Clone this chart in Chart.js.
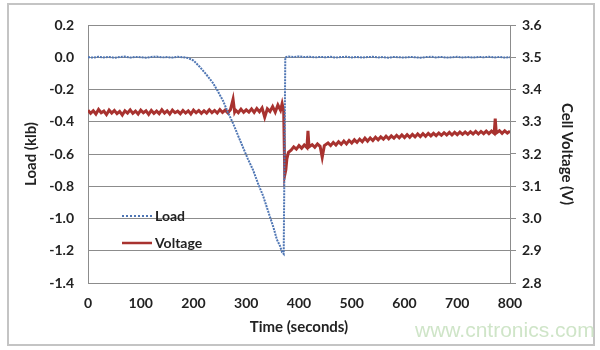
<!DOCTYPE html>
<html>
<head>
<meta charset="utf-8">
<script src="https://cdn.jsdelivr.net/npm/chart.js@4.4.0/dist/chart.umd.min.js"></script>
<style>
  body{margin:0;background:#fff;}
  #wrap{position:relative;width:600px;height:350px;}
  #frame{position:absolute;left:7px;top:3px;width:584px;height:339px;border:2px solid #c4c4c4;}
  #mark{position:absolute;left:415px;top:318px;font:21px "Liberation Sans",Arial,sans-serif;color:#cfe5c8;}
  canvas{position:absolute;left:0;top:0;}
</style>
</head>
<body>
<div id="wrap">
  <div id="frame"></div>
  <canvas id="myChart" width="600" height="350"></canvas>
  <div id="mark">www.cntronics.com</div>
</div>
<script>
// Load (klb) vs time
var loadTime = [0,10,20,30,40,50,60,70,80,90,100,110,120,130,140,150,160,170,180,190,
  200,212,225,237,246,256,265,275,285,294,303,313,322,332,339,345,352,358,364,368,371,
  374,380,390,400,410,420,430,440,450,460,470,480,490,500,510,520,530,540,550,560,570,
  580,590,600,610,620,630,640,650,660,670,680,690,700,710,720,730,740,750,760,770,780,790,800];
var loadVals = [0.000,-0.002,0.003,-0.001,0.002,-0.003,0.001,0.004,-0.002,0.002,0.000,-0.003,0.002,0.004,-0.001,0.001,-0.002,0.003,0.000,-0.005,
  -0.02,-0.06,-0.11,-0.16,-0.21,-0.27,-0.34,-0.41,-0.49,-0.56,-0.63,-0.70,-0.78,-0.86,-0.93,-0.99,-1.06,-1.13,-1.17,-1.21,-1.22,
  0.000,0.004,0.002,0.005,0.001,0.003,-0.001,0.002,0.000,0.003,-0.002,0.001,0.003,-0.001,0.002,-0.002,0.001,0.003,-0.001,0.001,-0.003,
  0.002,0.000,-0.002,0.002,0.000,-0.003,0.001,0.003,-0.001,0.002,-0.002,0.000,0.003,-0.001,0.001,-0.002,0.002,0.000,0.003,-0.001,0.002,-0.002,0.000];

// Cell voltage (V) vs time
var voltTime = [0,5,10,15,20,25,30,35,40,45,50,55,60,65,70,75,80,85,90,95,
  100,105,110,115,120,125,130,135,140,145,150,155,160,165,170,175,180,185,190,195,
  200,205,210,215,220,225,230,235,240,245,250,255,260,265,270,275,278,280,285,290,295,
  300,305,310,315,320,325,330,335,340,345,350,355,360,365,368,371,
  373,375,377,380,385,390,395,400,405,410,415,417,419,425,430,435,440,444,448,455,460,465,470,475,480,485,490,495,
  500,505,510,515,520,525,530,535,540,545,550,555,560,565,570,575,580,585,590,595,
  600,605,610,615,620,625,630,635,640,645,650,655,660,665,670,675,680,685,690,695,
  700,705,710,715,720,725,730,735,740,745,750,755,760,765,770,772,774,780,785,790,795,800];
var voltVals = [3.336,3.326,3.334,3.324,3.338,3.328,3.333,3.322,3.336,3.327,3.335,3.325,3.332,3.321,3.334,3.327,3.337,3.326,3.333,3.324,
  3.336,3.328,3.334,3.323,3.335,3.326,3.333,3.325,3.337,3.327,3.334,3.324,3.336,3.328,3.333,3.325,3.335,3.327,3.334,3.324,
  3.336,3.328,3.335,3.326,3.334,3.327,3.337,3.328,3.335,3.327,3.338,3.329,3.336,3.328,3.337,3.370,3.330,3.336,3.328,3.339,3.329,
  3.337,3.330,3.340,3.329,3.341,3.331,3.343,3.314,3.340,3.332,3.347,3.330,3.352,3.336,3.356,3.332,
  3.135,3.150,3.185,3.205,3.212,3.222,3.215,3.226,3.218,3.228,3.220,3.272,3.222,3.229,3.221,3.231,3.224,3.190,3.226,3.234,3.226,3.236,3.228,3.238,3.230,3.240,3.231,3.242,
  3.234,3.244,3.236,3.246,3.238,3.249,3.240,3.250,3.242,3.252,3.244,3.253,3.246,3.255,3.247,3.256,3.249,3.258,3.250,3.259,
  3.251,3.260,3.252,3.261,3.253,3.262,3.254,3.263,3.255,3.264,3.256,3.264,3.257,3.265,3.258,3.266,3.259,3.267,3.259,3.267,
  3.260,3.268,3.261,3.268,3.261,3.269,3.262,3.270,3.262,3.270,3.263,3.271,3.263,3.271,3.264,3.310,3.265,3.272,3.264,3.272,3.265,3.271];

var leftTicks = [0.2,0.0,-0.2,-0.4,-0.6,-0.8,-1.0,-1.2,-1.4];
var rightTicks = [3.6,3.5,3.4,3.3,3.2,3.1,3.0,2.9,2.8];
var xTicks = [0,100,200,300,400,500,600,700,800];

var loadColor = '#4f76b4';
var voltColor = '#a8322f';
var tickFont = {family:'Lato', size:14, weight:'bold'};

function toXY(xs, ys){
    var out = [];
    for(let i=0; i<xs.length; i++){
        out.push({x: xs[i], y: ys[i]});
    }
    return out;
}

// legend drawn inside the plot area
var innerLegend = {
    id: 'innerLegend',
    afterDraw: function(chart){
        var ctx = chart.ctx;
        var a = chart.chartArea;
        var x0 = a.left + 34, x1 = a.left + 64;
        var rows = [
            {label:'Load', color:loadColor, dash:[2,2], y:a.top + 191},
            {label:'Voltage', color:voltColor, dash:[], y:a.top + 218}
        ];
        ctx.save();
        rows.forEach(function(r){
            ctx.strokeStyle = r.color;
            ctx.lineWidth = r.dash.length ? 2 : 2.5;
            ctx.setLineDash(r.dash);
            ctx.beginPath();
            ctx.moveTo(x0, r.y);
            ctx.lineTo(x1, r.y);
            ctx.stroke();
            ctx.setLineDash([]);
            ctx.fillStyle = '#222';
            ctx.font = 'bold 14px Lato';
            ctx.textBaseline = 'middle';
            ctx.fillText(r.label, x1 + 3, r.y);
        });
        ctx.restore();
    }
};

var ctx = document.getElementById('myChart').getContext('2d');
var myChart = new Chart(ctx, {
    type: 'line',
    data: {
        datasets: [{
            label: 'Load',
            data: toXY(loadTime, loadVals),
            yAxisID: 'y',
            borderColor: loadColor,
            borderWidth: 2,
            borderDash: [2,1],
            pointRadius: 0,
            tension: 0
        },
        {
            label: 'Voltage',
            data: toXY(voltTime, voltVals),
            yAxisID: 'y1',
            borderColor: voltColor,
            borderWidth: 3,
            pointRadius: 0,
            tension: 0
        }]
    },
    options: {
        responsive: false,
        animation: false,
        layout: {padding: {left:10, right:10, top:25, bottom:10}},
        plugins: {legend: {display:false}, tooltip: {enabled:false}},
        scales: {
            x: {
                type: 'linear',
                min: 0, max: 800,
                afterBuildTicks: function(s){ s.ticks = xTicks.map(v => ({value:v})); },
                afterFit: function(s){ s.height = 57; },
                grid: {display:false, drawTicks:false},
                border: {display:true, color:'#8c8c8c', width:1},
                ticks: {color:'#222', font:tickFont, padding:12, maxRotation:0},
                title: {display:true, text:'Time (seconds)', color:'#222', font:{family:'Lato', size:15, weight:'bold'}, padding:{top:4, bottom:4}}
            },
            y: {
                position: 'left',
                min: -1.4, max: 0.2,
                afterBuildTicks: function(s){ s.ticks = leftTicks.map(v => ({value:v})); },
                afterFit: function(s){ s.width = 78; },
                grid: {color:'#8c8c8c', lineWidth:1, drawTicks:false},
                border: {display:true, color:'#8c8c8c', width:1},
                ticks: {color:'#222', font:tickFont, padding:14, callback: v => v.toFixed(1)},
                title: {display:true, text:'Load (klb)', color:'#222', font:{family:'Lato', size:15, weight:'bold'}, padding:{top:12, bottom:0}}
            },
            y1: {
                position: 'right',
                min: 2.8, max: 3.6,
                afterBuildTicks: function(s){ s.ticks = rightTicks.map(v => ({value:v})); },
                afterFit: function(s){ s.width = 80; },
                grid: {drawOnChartArea:false, color:'#8c8c8c', tickLength:6},
                border: {display:true, color:'#8c8c8c', width:1},
                ticks: {color:'#222', font:tickFont, padding:6, callback: v => v.toFixed(1)},
                title: {display:true, text:'Cell Voltage (V)', color:'#222', font:{family:'Lato', size:15, weight:'bold'}, padding:{top:14, bottom:0}}
            }
        }
    },
    plugins: [innerLegend]
});
</script>
</body>
</html>
